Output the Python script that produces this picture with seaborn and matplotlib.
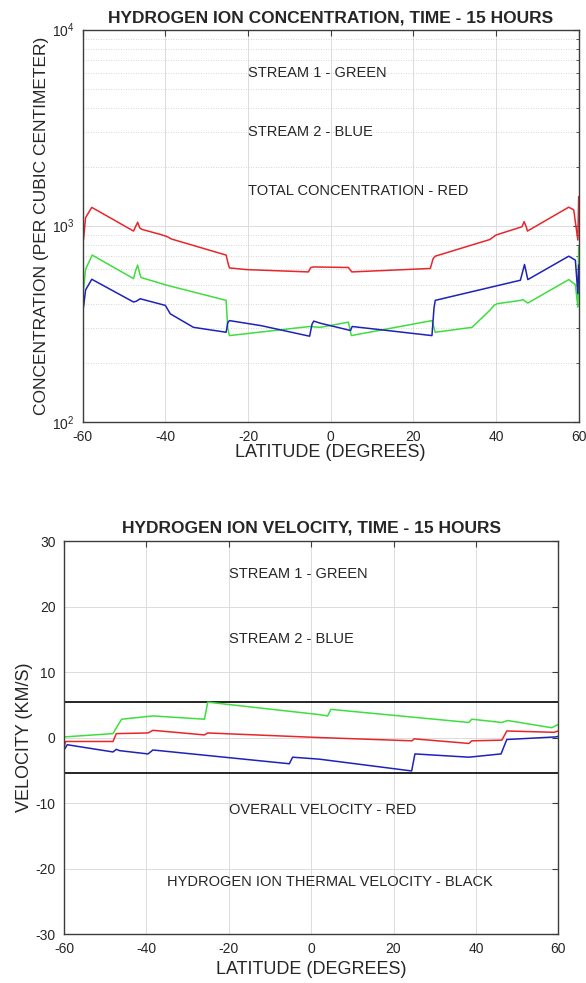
"""
Hydrogen ion concentration and velocity along latitude at 15 hours.

Two stacked panels: log-scale concentration (stream 1, stream 2, total)
and velocity (stream 1, stream 2, overall, thermal bounds).
Saves out.png.
"""

import matplotlib
matplotlib.use("Agg")
import matplotlib.pyplot as plt
import seaborn as sns
from matplotlib.ticker import LogLocator, NullFormatter, MultipleLocator

# ---- concentration panel data (per cubic centimeter) ----
CONC_TOTAL_LAT = [-60, -59.8, -59.3, -57.8, -47.7, -47.2, -46.7, -46.2, -45.7, -41, -39.5, -38.5,
                  -25.3, -24.8, -24.5, -20.3, -5.4, -4.8, -4.1, 4.3, 5.1, 24.1, 24.8, 25.3,
                  38.5, 40, 46.3, 46.8, 47.3, 47.6, 57.6, 58.8, 59.8, 60]
CONC_TOTAL = [1409, 850, 1100, 1240, 939, 990, 1041, 975, 958, 900, 878, 855,
              708, 640, 609, 597, 581, 612, 616, 612, 581, 605, 680, 699,
              850, 896, 988, 1048, 990, 939, 1243, 1204, 845, 1409]

CONC_S1_LAT = [-60, -59.8, -59.3, -57.7, -47.7, -47.2, -46.7, -46.2, -45.9, -39.5, -25.3, -24.9,
               -24.5, -5.1, -2.5, 4.3, 5.0, 24.5, 25.3, 34.2, 38.5, 39.5, 40.3, 46.0, 46.5,
               47.7, 57.6, 59.2, 59.8, 60]
CONC_S1 = [800, 470, 600, 708, 537, 590, 629, 570, 544, 496, 416, 300,
           275, 306, 303, 322, 275, 328, 286, 303, 370, 392, 400, 416, 420,
           403, 531, 500, 384, 780]

CONC_S2_LAT = [-60, -59.8, -59.3, -57.8, -47.7, -47.0, -46.1, -40, -38.8, -33.2, -25.3, -24.9,
               -24.5, -16.8, -5.1, -4.5, -4.1, -2.5, 4.8, 5.2, 24.5, 25.0, 25.3, 45.9,
               46.9, 47.7, 57.6, 59.2, 59.8, 60]
CONC_S2 = [610, 384, 470, 533, 408, 412, 424, 392, 355, 303, 286, 320,
           328, 309, 273, 315, 326, 318, 292, 306, 275, 380, 416, 527,
           634, 531, 699, 667, 450, 630]

CONC_LABELS = ["STREAM 1 - GREEN", "STREAM 2 - BLUE", "TOTAL CONCENTRATION - RED"]
CONC_LABEL_Y = [6000, 3000, 1500]

# ---- velocity panel data (km/s) ----
VEL_S1_LAT = [-60, -59.8, -48.1, -47.0, -46.0, -38.4, -25.9, -25.1, 2.0, 4.0, 4.8,
              38.3, 39.0, 46.3, 47.7, 58.4, 60]
VEL_S1 = [0.0, 0.1, 0.6, 1.8, 2.8, 3.3, 2.8, 5.4, 3.5, 3.3, 4.3,
          2.3, 2.8, 2.3, 2.6, 1.5, 2.0]

VEL_OVERALL_LAT = [-60, -59.6, -48.1, -47.3, -39.6, -38.4, -25.9, -25.1, 2.0, 24.5, 25.0,
                   38.3, 39.0, 46.3, 47.5, 59.0, 60]
VEL_OVERALL = [-1.5, -0.6, -0.6, 0.6, 0.7, 1.1, 0.4, 0.7, 0.0, -0.5, -0.2,
               -0.9, -0.5, -0.4, 1.0, 0.8, 1.0]

VEL_S2_LAT = [-60, -59.2, -48.1, -47.3, -46.5, -39.6, -38.4, -5.3, -4.5, 2.0, 24.4, 25.2,
              38.3, 46.1, 47.5, 59.5, 60]
VEL_S2 = [-1.9, -1.1, -2.2, -1.8, -2.0, -2.5, -1.9, -4.0, -3.0, -3.3, -5.1, -2.5,
          -3.0, -2.5, -0.3, 0.1, 0.2]

THERMAL_LAT = [-60, 60]
THERMAL = [5.4, 5.4]

VEL_LABELS = ["STREAM 1 - GREEN", "STREAM 2 - BLUE", "OVERALL VELOCITY - RED",
              "HYDROGEN ION THERMAL VELOCITY - BLACK"]
VEL_LABEL_X = [-20, -20, -20, -35]
VEL_LABEL_Y = [25, 15, -11, -22]

LAT_TICKS = [-60, -40, -20, 0, 20, 40, 60]

RED = "#e8262a"
GREEN = "#3ede3e"
BLUE = "#1e22b8"
EDGE = "#3c3c3c"
TEXT = "#262626"


def style_axes(ax):
    # MATLAB-like box: inward ticks on all four sides, light gray grid.
    for s in ax.spines.values():
        s.set_color(EDGE)
        s.set_linewidth(1.0)
    ax.tick_params(which="both", direction="in", top=True, right=True,
                   color=EDGE, labelsize=10, labelcolor=TEXT, pad=6)
    ax.tick_params(which="major", length=4)
    ax.tick_params(which="minor", length=2)
    ax.grid(True, which="major", color="#dcdcdc", linewidth=0.7)
    ax.set_axisbelow(True)
    ax.set_xlim(-60, 60)
    ax.set_xticks(LAT_TICKS)
    ax.set_xticklabels([str(t) for t in LAT_TICKS])


def plot_concentration(ax):
    sns.lineplot(x=CONC_TOTAL_LAT, y=CONC_TOTAL, ax=ax, color=RED, lw=1.1, sort=False, estimator=None)
    sns.lineplot(x=CONC_S1_LAT, y=CONC_S1, ax=ax, color=GREEN, lw=1.1, sort=False, estimator=None)
    sns.lineplot(x=CONC_S2_LAT, y=CONC_S2, ax=ax, color=BLUE, lw=1.1, sort=False, estimator=None)
    ax.set_yscale("log")
    ax.set_ylim(100, 10000)
    style_axes(ax)
    ax.yaxis.set_major_locator(LogLocator(base=10))
    ax.yaxis.set_minor_locator(LogLocator(base=10, subs=range(2, 10)))
    ax.yaxis.set_minor_formatter(NullFormatter())
    ax.grid(True, which="minor", axis="y", color="#c8c8c8", linewidth=0.6, linestyle=(0, (1, 2)))
    for label, y in zip(CONC_LABELS, CONC_LABEL_Y):
        ax.text(-20, y, label, fontsize=10.5, color=TEXT, va="center", ha="left")
    ax.set_title("HYDROGEN ION CONCENTRATION, TIME - 15 HOURS", fontsize=12.5, fontweight="bold", pad=5)
    ax.set_xlabel("LATITUDE (DEGREES)", fontsize=13, color=TEXT, labelpad=0)
    ax.set_ylabel("CONCENTRATION (PER CUBIC CENTIMETER)", fontsize=12.5, color=TEXT, labelpad=2)


def plot_velocity(ax):
    sns.lineplot(x=THERMAL_LAT, y=THERMAL, ax=ax, color="black", lw=1.2, estimator=None)
    sns.lineplot(x=THERMAL_LAT, y=[-v for v in THERMAL], ax=ax, color="black", lw=1.2, estimator=None)
    sns.lineplot(x=VEL_S1_LAT, y=VEL_S1, ax=ax, color=GREEN, lw=1.1, sort=False, estimator=None)
    sns.lineplot(x=VEL_OVERALL_LAT, y=VEL_OVERALL, ax=ax, color=RED, lw=1.1, sort=False, estimator=None)
    sns.lineplot(x=VEL_S2_LAT, y=VEL_S2, ax=ax, color=BLUE, lw=1.1, sort=False, estimator=None)
    ax.set_ylim(-30, 30)
    style_axes(ax)
    ax.yaxis.set_major_locator(MultipleLocator(10))
    for label, x, y in zip(VEL_LABELS, VEL_LABEL_X, VEL_LABEL_Y):
        ax.text(x, y, label, fontsize=10.5, color=TEXT, va="center", ha="left")
    ax.set_title("HYDROGEN ION VELOCITY, TIME - 15 HOURS", fontsize=12.5, fontweight="bold", pad=6)
    ax.set_xlabel("LATITUDE (DEGREES)", fontsize=13, color=TEXT, labelpad=3)
    ax.set_ylabel("VELOCITY (KM/S)", fontsize=13, color=TEXT, labelpad=2)


def main():
    sns.set_style("white")
    plt.rcParams["font.family"] = ["Liberation Sans", "DejaVu Sans"]
    plt.rcParams["mathtext.fontset"] = "custom"
    plt.rcParams["mathtext.rm"] = "Liberation Sans"
    plt.rcParams["axes.unicode_minus"] = False

    fig = plt.figure(figsize=(5.86, 9.83), dpi=100)
    ax_top = fig.add_axes([0.1411, 0.5710, 0.8464, 0.3988])
    ax_bot = fig.add_axes([0.1092, 0.0498, 0.8435, 0.3998])

    plot_concentration(ax_top)
    plot_velocity(ax_bot)

    fig.savefig("out.png", dpi=100, facecolor="white")
    plt.close(fig)


if __name__ == "__main__":
    main()
